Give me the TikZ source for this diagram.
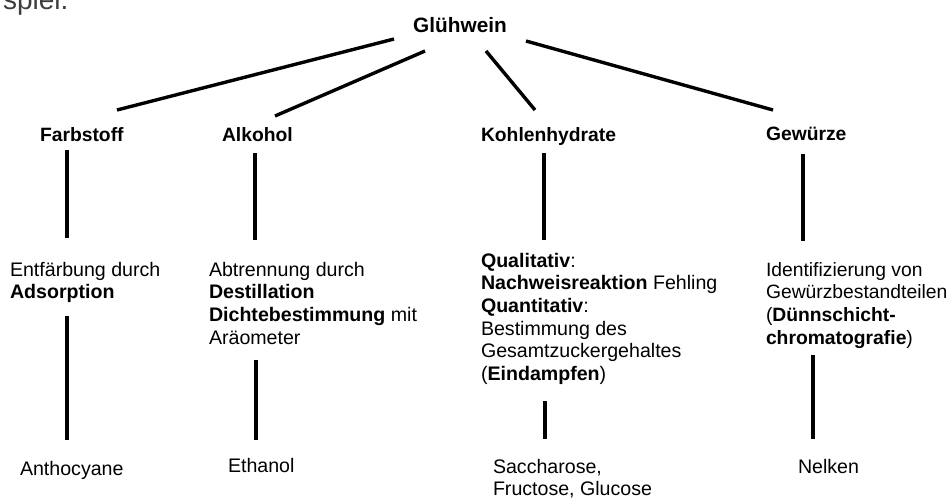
\documentclass[tikz,border=0pt]{standalone}
\usepackage{fontspec}
\setmainfont{Liberation Sans}
\begin{document}
\begin{tikzpicture}[x=1pt,y=-1pt,
  txt/.style={inner sep=0pt,outer sep=0pt,anchor=base west,align=left,
    font=\fontsize{19.6}{22.7}\selectfont},
  head/.style={txt,font=\fontsize{19.3}{22.7}\selectfont\bfseries},
  diag/.style={line width=3.4pt},
  vert/.style={line width=4pt}]
\useasboundingbox (0,0) rectangle (948,498);
\fill[white] (0,0) rectangle (948,498);
% cut-off fragment at top left
\node[txt,font=\fontsize{28}{30}\selectfont,text=black!76] (frag) at (3,9.5) {spiel.};
% headings
\node[head,anchor=base,font=\fontsize{20.8}{22.7}\selectfont\bfseries] (glu) at (460,32) {Glühwein};
\node[head] (farb) at (40,141) {Farbstoff};
\node[head] (alk) at (222,141) {Alkohol};
\node[head] (kohl) at (481,141) {Kohlenhydrate};
\node[head] (gew) at (766,140) {Gewürze};
% method texts (base anchor = baseline of last line)
\node[txt] (m1) at (10,298.7) {Entfärbung durch\\\textbf{Adsorption}};
\node[txt] (m2) at (209,344.1) {Abtrennung durch\\\textbf{Destillation}\\\textbf{Dichtebestimmung} mit\\Aräometer};
\node[txt] (m3) at (481,380.5) {\textbf{Qualitativ}:\\\textbf{Nachweisreaktion} Fehling\\\textbf{Quantitativ}:\\Bestimmung des\\Gesamtzuckergehaltes\\(\textbf{Eindampfen})};
\node[txt,font=\fontsize{19.3}{22.7}\selectfont] (m4) at (766,344.1) {Identifizierung von\\Gewürzbestandteilen\\(\textbf{Dünnschicht-}\\\textbf{chromatografie})};
% results
\node[txt] (r1) at (20,475) {Anthocyane};
\node[txt] (r2) at (228,472) {Ethanol};
\node[txt] (r3) at (493,495.7) {Saccharose,\\Fructose, Glucose};
\node[txt] (r4) at (798,473) {Nelken};
% connector end points
\coordinate (g1) at (394,39);  \coordinate (f0) at (117,110);
\coordinate (g2) at (425,51);  \coordinate (a0) at (275,116);
\coordinate (g3) at (486,51);  \coordinate (k0) at (535,110);
\coordinate (g4) at (526,41);  \coordinate (w0) at (773,110);
\coordinate (f1) at (67,150);  \coordinate (f2) at (67,238);
\coordinate (f3) at (67,316);  \coordinate (f4) at (67,440);
\coordinate (a1) at (255,153); \coordinate (a2) at (255,240);
\coordinate (a3) at (256,360); \coordinate (a4) at (256,440);
\coordinate (k1) at (544,153); \coordinate (k2) at (544,240);
\coordinate (k3) at (545,401); \coordinate (k4) at (545,439);
\coordinate (w1) at (803,154); \coordinate (w2) at (803,241);
\coordinate (w3) at (813,355); \coordinate (w4) at (813,439);
% connectors
\draw[diag] (g1) -- (f0);
\draw[diag] (g2) -- (a0);
\draw[diag] (g3) -- (k0);
\draw[diag] (g4) -- (w0);
\draw[vert] (f1) -- (f2); \draw[vert] (f3) -- (f4);
\draw[vert] (a1) -- (a2); \draw[vert] (a3) -- (a4);
\draw[vert] (k1) -- (k2); \draw[vert] (k3) -- (k4);
\draw[vert] (w1) -- (w2); \draw[vert] (w3) -- (w4);
\end{tikzpicture}
\end{document}
